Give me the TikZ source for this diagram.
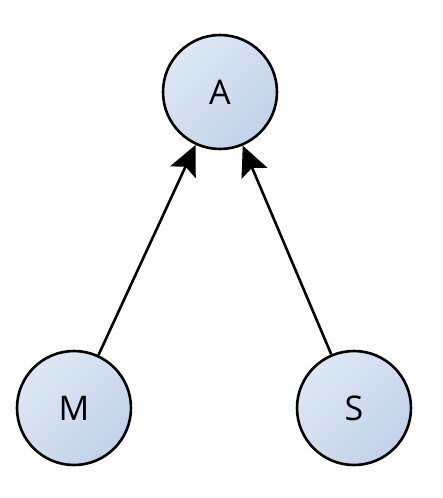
\documentclass[tikz,border=0pt]{standalone}
\usepackage{fontspec}
\setmainfont{Open Sans}
\usetikzlibrary{arrows.meta}
\definecolor{fillA}{HTML}{DEE8F4}
\definecolor{fillB}{HTML}{C2D2E8}
\tikzset{
  varnode/.style={circle, draw=black, line width=2.6pt, minimum size=114pt, inner sep=0pt,
    shading=axis, top color=fillA, bottom color=fillB, shading angle=45,
    font=\fontsize{34}{34}\selectfont},
  edgearrow/.style={line width=2.6pt, -{Stealth[length=30pt,width=28pt,inset=6pt]}}
}
\begin{document}
\begin{tikzpicture}[x=1pt,y=-1pt]
  \useasboundingbox (0,0) rectangle (442,498);
  \node[varnode] (A) at (220,92) {A};
  \node[varnode] (M) at (74,408) {M};
  \node[varnode] (S) at (354,408) {S};
  \draw[edgearrow] (M) -- (A);
  \draw[edgearrow] (S) -- (A);
\end{tikzpicture}
\end{document}
